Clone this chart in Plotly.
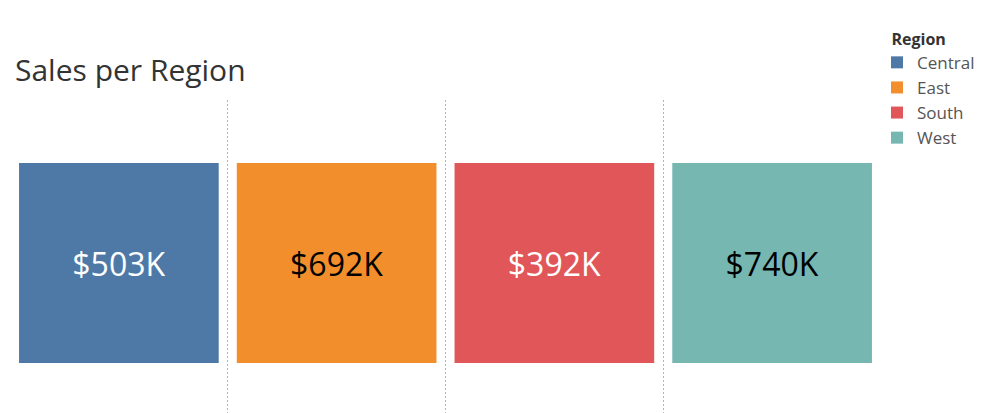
import plotly.graph_objects as go

regions = ["Central", "East", "South", "West"]
sales_k = [503, 692, 392, 740]
colors = ["#4e79a7", "#f28e2b", "#e15759", "#76b7b2"]
label_colors = ["#ffffff", "#000000", "#ffffff", "#000000"]
tile = [1, 1, 1, 1]

fig = go.Figure()
for r, v, c, lc, t in zip(regions, sales_k, colors, label_colors, tile):
    fig.add_trace(go.Bar(
        x=[r], y=[t], base=0, name=r, width=0.917,
        marker=dict(color=c, line=dict(width=0)),
        text=[f"${v}K"], textposition="inside", insidetextanchor="middle",
        textfont=dict(size=32, color=lc, family="Open Sans"),
        hovertemplate=f"{r}: ${v}K<extra></extra>",
    ))

fig.update_layout(
    width=997, height=413,
    margin=dict(l=2, r=124, t=92, b=8),
    paper_bgcolor="white", plot_bgcolor="white",
    barmode="overlay",
    title=dict(text="Sales per Region", x=7/997, xref="container", xanchor="left",
               y=1-62/413, yanchor="middle",
               font=dict(size=30, color="#333333", family="Open Sans")),
    xaxis=dict(categoryorder="array", categoryarray=regions, range=[-0.5, 3.5],
               showticklabels=False, ticks="", showgrid=True, tickson="boundaries",
               griddash="2px,2px", gridcolor="#b4b4b4", gridwidth=1,
               zeroline=False, showline=False, fixedrange=True),
    yaxis=dict(range=[-0.25, 1.315], visible=False, fixedrange=True),
    legend=dict(title=dict(text="&nbsp;&nbsp;&nbsp;<b>Region</b>",
                           font=dict(size=16, color="#333333")),
                x=(869-2)/871, xanchor="left", y=1+(92-16)/313, yanchor="top",
                font=dict(size=17, color="#555555", family="Open Sans"),
                bgcolor="rgba(0,0,0,0)"),
    font=dict(family="Open Sans"),
)

fig.write_html("out.html")
